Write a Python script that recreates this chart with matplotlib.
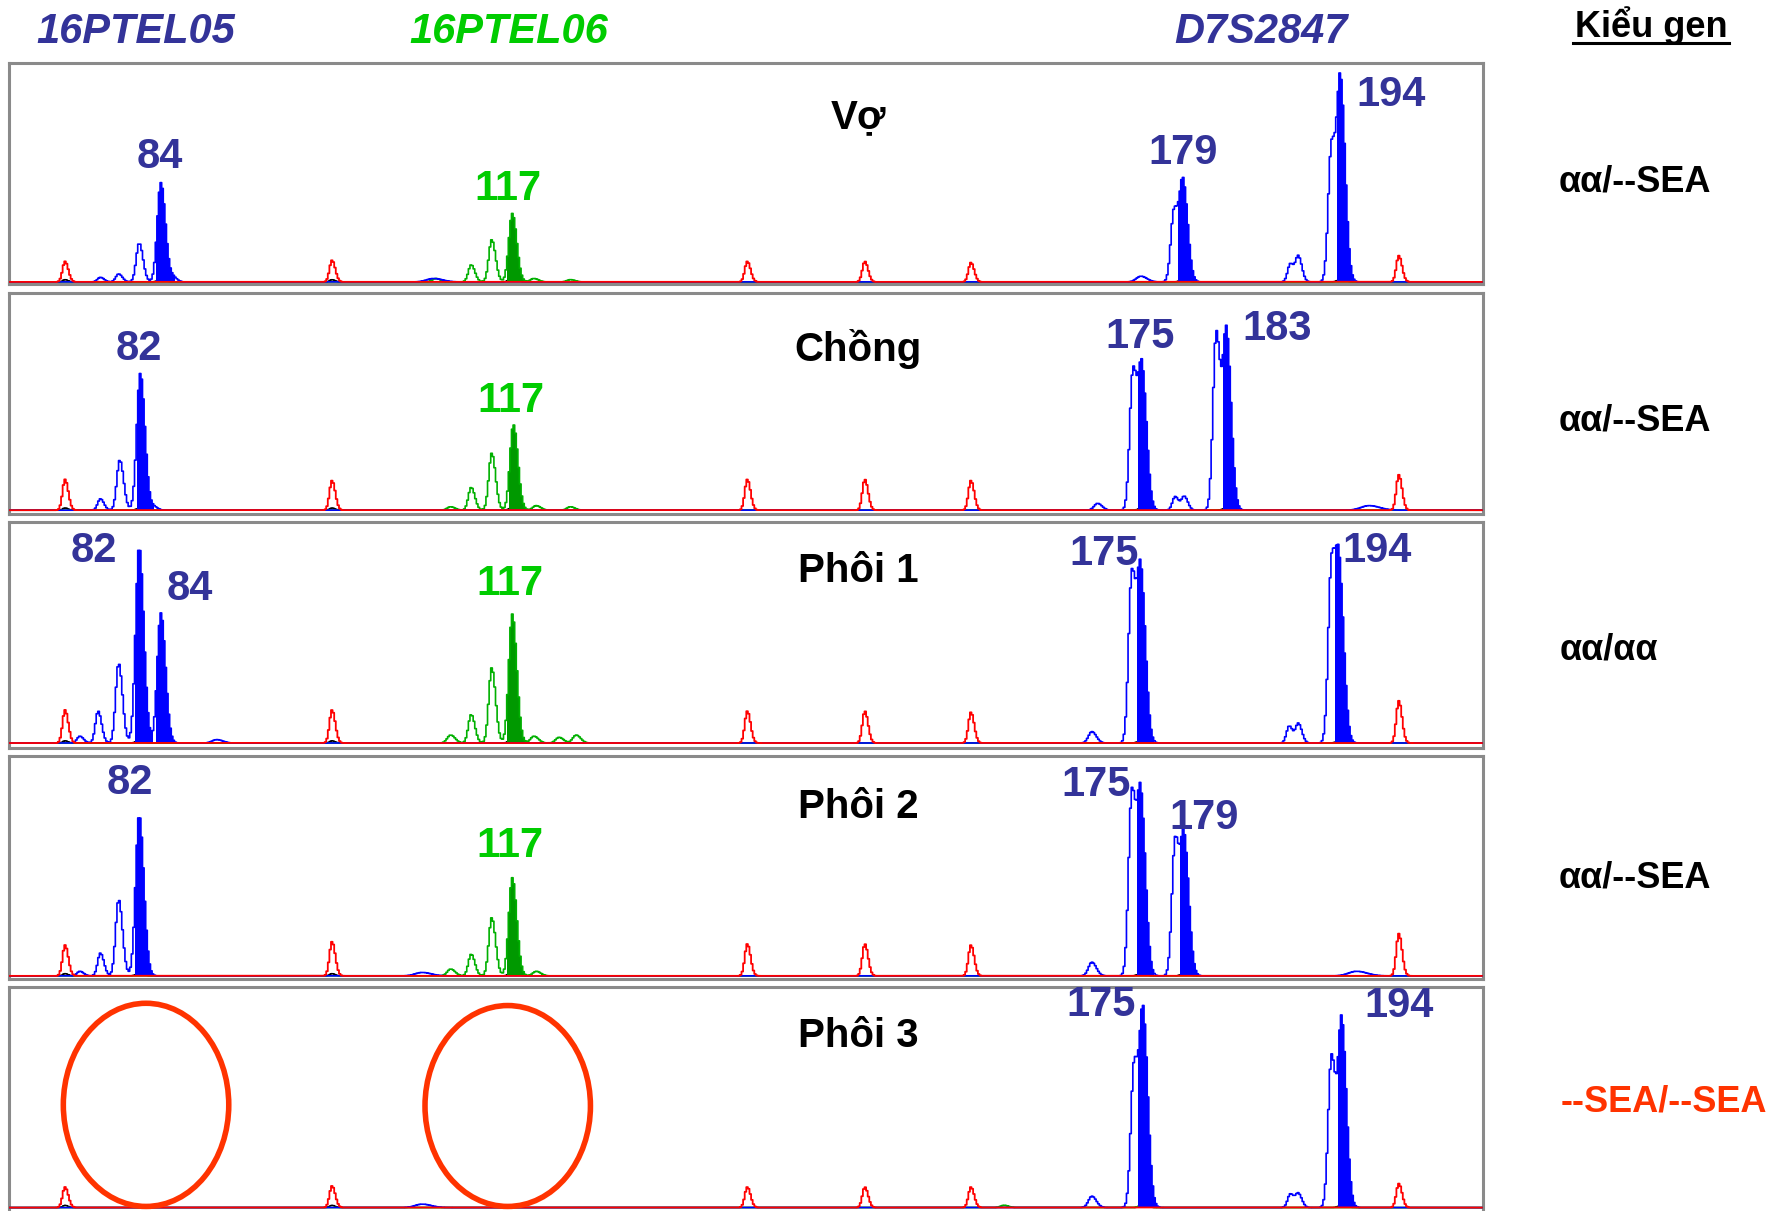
import numpy as np
import matplotlib
matplotlib.use('Agg')
import matplotlib.pyplot as plt
from matplotlib.patches import Ellipse
from matplotlib.lines import Line2D

plt.rcParams['font.family'] = ['Liberation Sans', 'DejaVu Sans']

# ---------------- data ----------------
markers = ['16PTEL05', '16PTEL06', 'D7S2847']
samples = ['Vợ', 'Chồng', 'Phôi 1', 'Phôi 2', 'Phôi 3']
genotypes = ['αα/--SEA', 'αα/--SEA', 'αα/αα', 'αα/--SEA', '--SEA/--SEA']

# peaks: (scan position, height, width, filled)
blue_peaks = [
    [(88, 4, 2.5, 0), (104, 7, 2.5, 0), (122, 34, 2.6, 0), (141, 87, 3.1, 1), (152, 4, 2.5, 0),
     (380, 3, 6, 0), (1000, 5, 4, 0), (1029, 62, 2.8, 0), (1037, 86, 3.1, 1),
     (1131, 16, 2.4, 0), (1138, 22, 2.4, 0), (1167, 118, 2.8, 0), (1175, 172, 3.1, 1)],
    [(88, 10, 2.4, 0), (105, 44, 2.6, 0), (123, 120, 3.1, 1), (135, 3, 2.5, 0),
     (962, 6, 3, 0), (993, 121, 2.8, 0), (1001, 120, 3.1, 1), (1030, 12, 2.4, 0),
     (1038, 12, 2.4, 0), (1066, 155, 2.8, 0), (1075, 154, 3.1, 1), (1200, 4, 7, 0)],
    [(70, 6, 2.5, 0), (86, 28, 2.4, 0), (104, 70, 2.6, 0), (122, 172, 3.1, 1), (141, 114, 3.1, 1),
     (190, 3, 4, 0), (957, 10, 3, 0), (992, 147, 2.8, 0), (1000, 145, 3.1, 1),
     (1130, 15, 2.4, 0), (1138, 17, 2.4, 0), (1167, 154, 2.8, 0), (1174, 141, 3.1, 1)],
    [(70, 4, 2.5, 0), (88, 20, 2.4, 0), (104, 67, 2.6, 0), (122, 141, 3.1, 1), (370, 3, 6, 0),
     (957, 12, 3, 0), (992, 159, 2.8, 0), (1000, 152, 3.1, 1), (1030, 118, 2.8, 0),
     (1038, 116, 3.1, 1), (1189, 4, 7, 0)],
    [(370, 3, 6, 0), (957, 10, 3, 0), (994, 124, 2.8, 0), (1002, 166, 3.1, 1),
     (1131, 12, 2.4, 0), (1138, 12, 2.4, 0), (1167, 132, 2.8, 0), (1176, 162, 3.1, 1)],
]

green_peaks = [
    [(382, 3, 3, 0), (413, 15, 2.5, 0), (431, 37, 2.6, 0), (449, 60, 3.0, 1), (468, 3, 3, 0), (500, 2, 3, 0)],
    [(395, 3, 3, 0), (413, 20, 2.5, 0), (431, 50, 2.6, 0), (450, 75, 3.0, 1), (470, 4, 3, 0), (500, 3, 3, 0)],
    [(395, 7, 3, 0), (413, 25, 2.5, 0), (431, 66, 2.6, 0), (449, 113, 3.0, 1), (468, 6, 3, 0),
     (490, 5, 3, 0), (505, 7, 3, 0)],
    [(395, 6, 3, 0), (413, 19, 2.5, 0), (431, 51, 2.6, 0), (449, 86, 3.0, 1), (470, 4, 3, 0)],
    [(880, 2, 3, 0), (1002, 3, 3, 0)],
]

black_peaks = [
    [(57, 2, 2, 0), (141, 2, 3, 0), (291, 2, 2, 0), (449, 3, 3, 0), (1037, 2, 3, 0), (1175, 2, 3, 0)],
    [(57, 2, 2, 0), (123, 2, 3, 0), (291, 2, 2, 0), (450, 3, 3, 0), (1001, 2, 3, 0), (1075, 2, 3, 0)],
    [(57, 2, 2, 0), (122, 2, 3, 0), (291, 2, 2, 0), (449, 3, 3, 0), (1000, 2, 3, 0), (1174, 2, 3, 0)],
    [(57, 2, 2, 0), (122, 2, 3, 0), (291, 2, 2, 0), (449, 3, 3, 0), (1000, 2, 3, 0), (1038, 2, 3, 0)],
    [(57, 2, 2, 0), (291, 2, 2, 0), (1002, 2, 3, 0), (1176, 2, 3, 0)],
]

size_std_pos = [57, 291, 655, 758, 851, 1226]
size_std_h = [
    [18, 19, 18, 18, 17, 23],
    [27, 26, 27, 27, 26, 31],
    [29, 29, 28, 28, 27, 37],
    [27, 30, 28, 28, 27, 37],
    [18, 19, 18, 18, 18, 21],
]

# allele labels per panel: (text, colour key, x, baseline y) in layout px
allele_labels = [
    [('84', 'b', 140, 147), ('117', 'g', 445, 175), ('179', 'b', 1037, 144), ('194', 'b', 1219, 93)],
    [('82', 'b', 122, 315), ('117', 'g', 448, 361), ('175', 'b', 999, 305), ('183', 'b', 1119, 298)],
    [('82', 'b', 82, 492), ('84', 'b', 166, 526), ('117', 'g', 447, 521), ('175', 'b', 968, 495),
     ('194', 'b', 1207, 492)],
    [('82', 'b', 114, 696), ('117', 'g', 447, 751), ('175', 'b', 961, 697), ('179', 'b', 1055, 726)],
    [('175', 'b', 965, 890), ('194', 'b', 1226, 891)],
]

# ---------------- layout ----------------
W, H = 1568.0, 1061.0
panel_geom = [(55, 249, 247), (257, 450, 447), (457, 655, 651), (662, 858, 855), (865, 1062, 1058)]
panel_x = (8, 1300)
sample_label_y = [112, 316, 510, 717, 917]
geno_y = [168, 377, 578, 778, 974]
geno_x = [1433, 1433, 1410, 1433, 1458]

C_LABEL_BLUE = '#333399'
C_LABEL_GREEN = '#00CC00'
C_BLUE = '#0000FF'
C_GREEN_LINE = '#00B000'
C_GREEN_FILL = '#009900'
C_RED = '#FF0000'
C_ORANGE = '#FF3300'
RIGHT_TAIL = 1.3


def fx(x):
    return x / W


def fy(y):
    return 1 - y / H


fig = plt.figure(figsize=(17.89, 12.11), dpi=100)
fig.patch.set_facecolor('white')

xs = np.arange(panel_x[0], panel_x[1], 1.4)


def trace(peaks):
    y = np.zeros_like(xs)
    for p, h, w, _ in peaks:
        s = np.where(xs < p, w, w * RIGHT_TAIL)
        y += h * np.exp(-0.5 * ((xs - p) / s) ** 2)
    return y


for i in range(5):
    top, bot, base = panel_geom[i]
    ax = fig.add_axes([fx(panel_x[0]), fy(bot), (panel_x[1] - panel_x[0]) / W, (bot - top) / H])
    ax.set_xlim(panel_x)
    ax.set_ylim(-(bot - base), base - top)
    ax.set_xticks([])
    ax.set_yticks([])
    for s in ax.spines.values():
        s.set_color('#8a8a8a')
        s.set_linewidth(2.2)
    ax.set_facecolor('white')

    # black
    yk = trace(black_peaks[i])
    ax.plot(xs, yk, color='black', lw=1.0, drawstyle='steps-mid', zorder=2)
    # green
    yg = trace(green_peaks[i])
    for p, h, w, f in green_peaks[i]:
        if f:
            m = (xs >= p - 1.4 * w) & (xs <= p + 3.2 * w * RIGHT_TAIL)
            ax.fill_between(xs, 0, yg, where=m, step='mid', color=C_GREEN_FILL, lw=0, zorder=3)
    ax.plot(xs, yg, color=C_GREEN_LINE, lw=1.2, drawstyle='steps-mid', zorder=3)
    # blue
    yb = trace(blue_peaks[i])
    for p, h, w, f in blue_peaks[i]:
        if f:
            m = (xs >= p - 1.4 * w) & (xs <= p + 3.2 * w * RIGHT_TAIL)
            ax.fill_between(xs, 0, yb, where=m, step='mid', color=C_BLUE, lw=0, zorder=4)
    ax.plot(xs, yb, color=C_BLUE, lw=1.2, drawstyle='steps-mid', zorder=4)
    # red size standard
    yr = trace([(p, h, 2.2, 0) for p, h in zip(size_std_pos, size_std_h[i])])
    ax.plot(xs, yr, color=C_RED, lw=1.3, drawstyle='steps-mid', zorder=5)

    # sample label
    fig.text(fx(752), fy(sample_label_y[i]), samples[i], ha='center', va='baseline',
             fontsize=29, fontweight='bold', color='black')
    # allele labels
    for t, c, x, y in allele_labels[i]:
        fig.text(fx(x), fy(y), t, ha='center', va='baseline', fontsize=30, fontweight='bold',
                 color=C_LABEL_BLUE if c == 'b' else C_LABEL_GREEN)
    # genotype
    fig.text(fx(geno_x[i]), fy(geno_y[i]), genotypes[i], ha='center', va='baseline', fontsize=26,
             fontweight='bold', color=C_ORANGE if i == 4 else 'black')

# marker titles
fig.text(fx(119), fy(37.5), markers[0], ha='center', va='baseline', fontsize=30,
         fontweight='bold', fontstyle='italic', color=C_LABEL_BLUE)
fig.text(fx(446), fy(37.5), markers[1], ha='center', va='baseline', fontsize=30,
         fontweight='bold', fontstyle='italic', color=C_LABEL_GREEN)
fig.text(fx(1105), fy(37.5), markers[2], ha='center', va='baseline', fontsize=30,
         fontweight='bold', fontstyle='italic', color=C_LABEL_BLUE)

# genotype header with underline
fig.text(fx(1447), fy(32), 'Kiểu gen', ha='center', va='baseline', fontsize=26,
         fontweight='bold', color='black')
fig.add_artist(Line2D([fx(1379), fx(1515)], [fy(38), fy(38)], transform=fig.transFigure,
                      color='black', lw=2.2))

# missing-allele circles on the last embryo
for cx, cy, ew, eh in [(128, 968, 145, 178), (445, 969, 145, 176)]:
    fig.add_artist(Ellipse((fx(cx), fy(cy)), ew / W, eh / H, transform=fig.transFigure,
                           fill=False, edgecolor=C_ORANGE, lw=4.0, zorder=10))

fig.savefig('out.png', dpi=100, facecolor='white')
